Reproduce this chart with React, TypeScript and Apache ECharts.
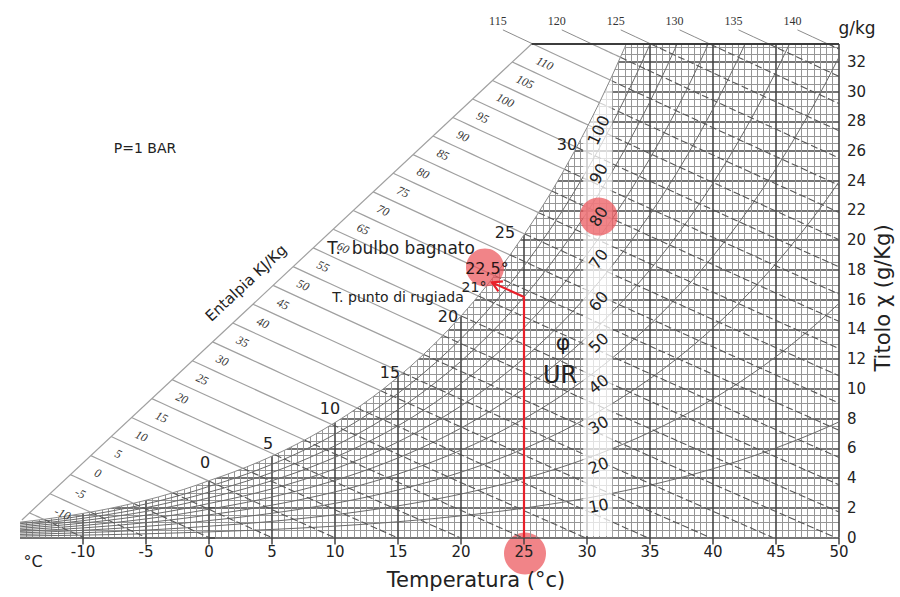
import React, { useEffect, useRef } from "react";
import * as echarts from "echarts";

// ---------- data ----------
const PRESSURE_KPA = 100; // P = 1 bar
const T_MIN = -15;
const T_MAX = 50;
const W_MAX = 33.2;

const satTemps = [
  -15, -14, -13, -12, -11, -10, -9, -8, -7, -6, -5, -4, -3, -2, -1,
  0, 1, 2, 3, 4, 5, 6, 7, 8, 9,
  10, 11, 12, 13, 14, 15, 16, 17, 18, 19,
  20, 21, 22, 23, 24, 25, 26, 27, 28, 29,
  30, 31, 32, 33, 34, 35, 36, 37, 38, 39,
  40, 41, 42, 43, 44, 45, 46, 47, 48, 49, 50,
];
// saturation vapour pressure, kPa
const satPressures = [
  0.1652, 0.1815, 0.1982, 0.2172, 0.2376, 0.2599, 0.2839, 0.3099, 0.3381, 0.3686, 0.4017, 0.4373, 0.476, 0.5177, 0.5627,
  0.6112, 0.6571, 0.706, 0.7581, 0.8135, 0.8725, 0.9353, 1.002, 1.0729, 1.1481,
  1.228, 1.3128, 1.4026, 1.4979, 1.5987, 1.7055, 1.8185, 1.938, 2.0643, 2.1979,
  2.3389, 2.4878, 2.6448, 2.8105, 2.9852, 3.1693, 3.3633, 3.5674, 3.7823, 4.0084,
  4.2462, 4.4961, 4.7586, 5.0345, 5.3242, 5.628, 5.9468, 6.2812, 6.6315, 6.9988,
  7.3838, 7.7866, 8.2081, 8.6495, 9.111, 9.5935, 10.098, 10.625, 11.175, 11.749, 12.349,
];

const rhLevels = [10, 20, 30, 40, 50, 60, 70, 80, 90];
const rhLabels = [10, 20, 30, 40, 50, 60, 70, 80, 90, 100];
const enthalpyLevels = [
  -10, -5, 0, 5, 10, 15, 20, 25, 30, 35, 40, 45, 50, 55, 60, 65, 70, 75, 80, 85, 90, 95, 100, 105, 110,
  115, 120, 125, 130, 135, 140,
];
const enthalpyScaleLabels = [
  -10, -5, 0, 5, 10, 15, 20, 25, 30, 35, 40, 45, 50, 55, 60, 65, 70, 75, 80, 85, 90, 95, 100, 105, 110,
];
const enthalpyTopLabels = [115, 120, 125, 130, 135, 140];
const satLabelTemps = [0, 5, 10, 15, 20, 25, 30];
const xTickValues = [-10, -5, 0, 5, 10, 15, 20, 25, 30, 35, 40, 45, 50];
const yTickValues = [0, 2, 4, 6, 8, 10, 12, 14, 16, 18, 20, 22, 24, 26, 28, 30, 32];

const stateTemp = 25;
const stateRH = 80;
const wetBulbText = "22,5°";
const dewPointText = "21°";

// enthalpy scale (oblique line) end points, in (°C, g/kg)
const scaleStart = [-14.85, 1.18];
const scaleEnd = [25.6, 33.2];
const K_CHART = 0.136; // chart's enthalpy scale correction
const LEADER_TOP_W = 34.15;
const BAND_T = [29.7, 32.0];

// ---------- layout (pixels) ----------
const satLabelOffsets = [
  [-4, -18], [-4, -13], [-5, -14], [-8, -5], [-13, 0], [-19, -2], [-20, 17],
];

const FONT = "'DejaVu Sans', sans-serif";
const RED = "#e8202a";
const RED_FILL = "rgba(236,84,90,0.72)";

// ---------- geometry ----------
function vapourW(p: number, phi: number) {
  const pv = phi * p;
  return (622 * pv) / (PRESSURE_KPA - pv);
}
function cutAtTop(pts: number[][]) {
  const out: number[][] = [];
  for (let i = 0; i < pts.length; i++) {
    const [t, w] = pts[i];
    if (w <= W_MAX) out.push(pts[i]);
    else {
      if (i > 0) {
        const [t0, w0] = pts[i - 1];
        const f = (W_MAX - w0) / (w - w0);
        out.push([t0 + f * (t - t0), W_MAX]);
      }
      break;
    }
  }
  return out;
}
const satCurve = cutAtTop(satTemps.map((t, i) => [t, vapourW(satPressures[i], 1)]));
const rhCurves = rhLevels.map((rh) =>
  cutAtTop(satTemps.map((t, i) => [t, vapourW(satPressures[i], rh / 100)]))
);

function hChart(T: number, W: number) {
  return 1.006 * T + W * (2.501 + 0.00186 * T + K_CHART);
}
function isoT(L: number, W: number) {
  return (L - W * (2.501 + K_CHART)) / (1.006 + 0.00186 * W);
}
function lerp(a: number[], b: number[], s: number) {
  return [a[0] + (b[0] - a[0]) * s, a[1] + (b[1] - a[1]) * s];
}
function scalePoint(L: number) {
  let lo = 0;
  let hi = 1;
  for (let k = 0; k < 60; k++) {
    const m = (lo + hi) / 2;
    const p = lerp(scaleStart, scaleEnd, m);
    if (hChart(p[0], p[1]) < L) lo = m;
    else hi = m;
  }
  return lerp(scaleStart, scaleEnd, (lo + hi) / 2);
}
function satIntersect(L: number): number[] | null {
  for (let i = 0; i < satCurve.length - 1; i++) {
    const f0 = hChart(satCurve[i][0], satCurve[i][1]) - L;
    const f1 = hChart(satCurve[i + 1][0], satCurve[i + 1][1]) - L;
    if (f0 <= 0 && f1 >= 0) {
      const t = f0 / (f0 - f1);
      return lerp(satCurve[i], satCurve[i + 1], t);
    }
  }
  return null;
}
function sampleIso(L: number, w0: number, w1: number, n = 12) {
  const pts: number[][] = [];
  for (let k = 0; k <= n; k++) {
    const w = w0 + ((w1 - w0) * k) / n;
    pts.push([isoT(L, w), w]);
  }
  return pts;
}

const hCorner = hChart(scaleEnd[0], scaleEnd[1]);
const enthalpyWhite: number[][][] = [];
const enthalpyGrid: number[][][] = [];
for (const L of enthalpyLevels) {
  const startW = L <= hCorner ? scalePoint(L)[1] : W_MAX;
  const endW =
    L / 1.006 <= T_MAX ? 0 : (L - 1.006 * T_MAX) / (2.501 + 0.00186 * T_MAX + K_CHART);
  const sat = satIntersect(L);
  if (sat) {
    enthalpyWhite.push(sampleIso(L, startW, sat[1]));
    enthalpyGrid.push(sampleIso(L, sat[1], endW));
  } else {
    enthalpyGrid.push(sampleIso(L, startW, endW));
  }
}
const leaders = enthalpyTopLabels.map((L) => sampleIso(L, W_MAX, LEADER_TOP_W, 2));

const satTop = satCurve[satCurve.length - 1];
const maskPoints = [
  ...satCurve,
  [satTop[0], W_MAX + 0.6],
  [T_MIN - 0.6, W_MAX + 0.6],
  [T_MIN - 0.6, satCurve[0][1]],
];
const bandPoints = [
  [BAND_T[0], 0.1],
  [BAND_T[1], 0.1],
  [BAND_T[1], W_MAX],
  [BAND_T[0], W_MAX],
];

function polySeries(curves: number[][][], style: any) {
  const cs = curves.filter((c) => c.length > 1);
  return {
    type: "custom",
    silent: true,
    clip: false,
    data: cs.map((c) => c[0]),
    renderItem: (params: any, api: any) => {
      const pts = cs[params.dataIndex].map((p) => api.coord(p));
      return { type: "polyline", shape: { points: pts }, style: { fill: "none", ...style } };
    },
  };
}
function polygonSeries(points: number[][], style: any) {
  return {
    type: "custom",
    silent: true,
    clip: false,
    data: [points[0]],
    renderItem: (_params: any, api: any) => {
      const pts = points.map((p) => api.coord(p));
      return { type: "polygon", shape: { points: pts }, style: { ...style } };
    },
  };
}

function buildOption() {
  return {
    animation: false,
    backgroundColor: "#ffffff",
    grid: { left: 20, right: 61, top: 44, bottom: 59.5, containLabel: false, outerBoundsMode: "none" },
    xAxis: {
      type: "value",
      min: T_MIN,
      max: T_MAX,
      interval: 5,
      axisLine: { show: false },
      axisTick: { show: true, length: 7, customValues: xTickValues, lineStyle: { color: "#444", width: 1.5 } },
      axisLabel: { customValues: xTickValues, margin: 7, fontSize: 15, color: "#222", fontFamily: FONT },
      splitLine: { show: true, lineStyle: { color: "#474747", width: 1.6 } },
      minorTick: { show: false, splitNumber: 10 },
      minorSplitLine: { show: true, lineStyle: { color: "#969696", width: 1 } },
    },
    yAxis: {
      type: "value",
      position: "right",
      min: 0,
      max: W_MAX,
      interval: 2,
      axisLine: { show: false },
      axisTick: { show: true, length: 6, customValues: yTickValues, lineStyle: { color: "#444", width: 1.5 } },
      axisLabel: { customValues: yTickValues, margin: 8, fontSize: 15, color: "#222", fontFamily: FONT },
      splitLine: { show: true, lineStyle: { color: "#474747", width: 1.6 } },
      minorTick: { show: false, splitNumber: 4 },
      minorSplitLine: { show: true, lineStyle: { color: "#969696", width: 1 } },
    },
    series: [
      polySeries(rhCurves, { stroke: "#6a6a6a", lineWidth: 1 }),
      polySeries(enthalpyGrid, { stroke: "#555555", lineWidth: 1.1, lineDash: [7, 3] }),
      polygonSeries(maskPoints, { fill: "#ffffff" }),
      polygonSeries(bandPoints, { fill: "rgba(255,255,255,0.72)" }),
      polySeries([satCurve], { stroke: "#8a8a8a", lineWidth: 1 }),
      polySeries(enthalpyWhite, { stroke: "#a0a0a0", lineWidth: 1.2 }),
      polySeries([[scaleStart, scaleEnd]], { stroke: "#a0a0a0", lineWidth: 1.2 }),
      polySeries(leaders, { stroke: "#8c8c8c", lineWidth: 1 }),
      polySeries([[scaleEnd, [T_MAX, W_MAX]]], { stroke: "#3c3c3c", lineWidth: 1.8 }),
    ],
  };
}

function buildGraphics(chart: any) {
  const px = (p: number[]) => chart.convertToPixel({ gridIndex: 0 }, p) as number[];
  const g: any[] = [];
  const text = (t: string, x: number, y: number, font: string, opts: any = {}) =>
    g.push({
      type: "text",
      x,
      y,
      z: 30,
      silent: true,
      rotation: opts.rotation || 0,
      style: {
        text: t,
        font,
        fill: opts.fill || "#222",
        align: opts.align || "center",
        verticalAlign: "middle",
      },
    });

  // enthalpy scale labels
  for (const L of enthalpyScaleLabels) {
    const h = L + 2.5;
    const p = scalePoint(h);
    const a = px(p);
    const b = px([isoT(h, p[1] - 2), p[1] - 2]);
    const dx = b[0] - a[0];
    const dy = b[1] - a[1];
    const len = Math.hypot(dx, dy);
    const ux = dx / len;
    const uy = dy / len;
    const d = 16 + 3 * String(L).length;
    text(String(L), a[0] + ux * d, a[1] + uy * d, "italic 12px 'Liberation Serif', serif", {
      rotation: -Math.atan2(uy, ux),
      fill: "#333",
    });
  }
  // top enthalpy labels
  enthalpyTopLabels.forEach((L, i) => {
    const top = px(leaders[i][leaders[i].length - 1]);
    text(String(L), top[0] - 5, top[1] - 9, "12px 'Liberation Serif', serif", { fill: "#333" });
  });
  // saturation temperature labels
  satLabelTemps.forEach((t, i) => {
    const idx = satTemps.indexOf(t);
    const p = px([t, vapourW(satPressures[idx], 1)]);
    text(String(t), p[0] + satLabelOffsets[i][0], p[1] + satLabelOffsets[i][1], `16px ${FONT}`);
  });
  // RH labels
  const i30 = satTemps.indexOf(30);
  const i31 = satTemps.indexOf(31);
  const i32 = satTemps.indexOf(32);
  rhLabels.forEach((rh, k) => {
    const phi = rh / 100;
    const a = px([31, vapourW(satPressures[i31], phi)]);
    const p0 = px([30, vapourW(satPressures[i30], phi)]);
    const p1 = px([32, vapourW(satPressures[i32], phi)]);
    const rot = -Math.atan2(p1[1] - p0[1], p1[0] - p0[0]);
    const x = a[0] - 1;
    const y = a[1] + 8 + 2 * (k + 1);
    if (rh === stateRH) {
      g.push({ type: "circle", z: 15, silent: true, shape: { cx: x, cy: y, r: 19 }, style: { fill: RED_FILL } });
    }
    text(String(rh), x, y, `16px ${FONT}`, { rotation: rot });
  });

  // state point and wet bulb arrow
  const i25 = satTemps.indexOf(stateTemp);
  const state = [stateTemp, vapourW(satPressures[i25], stateRH / 100)];
  const wb = satIntersect(hChart(state[0], state[1])) as number[];
  const base = px([stateTemp, 0]);
  const sp = px(state);
  const tip = px(wb);
  const tipX = tip[0] + 2;
  const tipY = tip[1] + 1;
  g.push({
    type: "polyline",
    z: 16,
    silent: true,
    shape: { points: [base, sp, [tipX, tipY]] },
    style: { stroke: RED, lineWidth: 2.2, fill: "none" },
  });
  {
    const dx = sp[0] - tipX;
    const dy = sp[1] - tipY;
    const len = Math.hypot(dx, dy);
    const ux = dx / len;
    const uy = dy / len;
    const ang = Math.PI / 6;
    const r1 = [ux * Math.cos(ang) - uy * Math.sin(ang), ux * Math.sin(ang) + uy * Math.cos(ang)];
    const r2 = [ux * Math.cos(-ang) - uy * Math.sin(-ang), ux * Math.sin(-ang) + uy * Math.cos(-ang)];
    g.push({
      type: "polyline",
      z: 16,
      silent: true,
      shape: { points: [[tipX + r1[0] * 11, tipY + r1[1] * 11], [tipX, tipY], [tipX + r2[0] * 11, tipY + r2[1] * 11]] },
      style: { stroke: RED, lineWidth: 2.2, fill: "none" },
    });
  }
  g.push({ type: "circle", z: 15, silent: true, shape: { cx: tip[0] - 5, cy: tip[1] - 14, r: 19 }, style: { fill: RED_FILL } });
  text(wetBulbText, tip[0] - 3, tip[1] - 13, `16px ${FONT}`, { fill: "#2a1515" });
  text(dewPointText, tip[0] - 16, tip[1] + 6, `14px ${FONT}`);
  g.push({ type: "circle", z: -1, silent: true, shape: { cx: base[0] + 1, cy: base[1] + 16, r: 21 }, style: { fill: RED_FILL } });

  // fixed texts
  const a0 = px(scaleStart);
  const a1 = px(scaleEnd);
  const scaleRot = -Math.atan2(a1[1] - a0[1], a1[0] - a0[0]);
  text("Entalpia KJ/Kg", 246, 283, `15px ${FONT}`, { rotation: scaleRot });
  text("P=1 BAR", 145, 148, `14px ${FONT}`);
  text("T.  bulbo bagnato", 401, 248, `17px ${FONT}`);
  text("T. punto di rugiada", 398, 297, `14px ${FONT}`);
  text("φ", 563, 342, `22px ${FONT}`);
  text("UR", 560, 375, `24px ${FONT}`);
  text("°C", 33, 561, `16px ${FONT}`);
  text("Temperatura (°c)", 476, 580, `21px ${FONT}`);
  text("g/kg", 857, 28, `17px ${FONT}`);
  text("Titolo χ (g/Kg)", 883, 298, `21px ${FONT}`, { rotation: Math.PI / 2 });
  return g;
}

export default function App() {
  const ref = useRef<HTMLDivElement>(null);
  useEffect(() => {
    const el = ref.current as HTMLDivElement;
    const chart = echarts.init(el, null, { renderer: "svg" });
    chart.setOption(buildOption() as any);
    chart.setOption({ graphic: buildGraphics(chart) } as any);
    return () => chart.dispose();
  }, []);
  return (
    <div
      ref={ref}
      style={{ position: "absolute", left: 0, top: 0, width: 900, height: 597, background: "#fff" }}
    />
  );
}
